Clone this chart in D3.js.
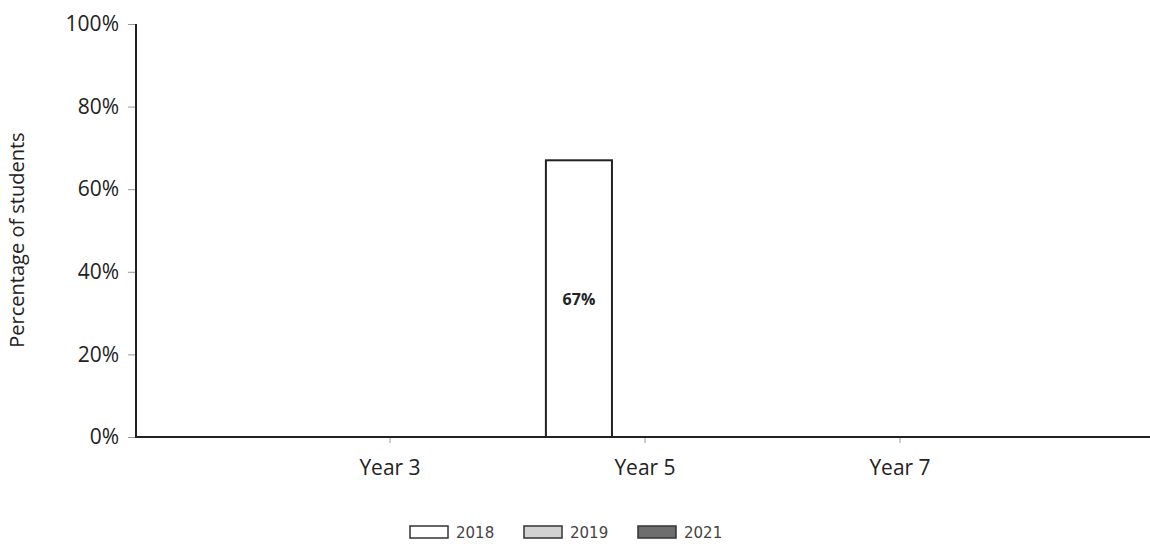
<!DOCTYPE html>
<html>
<head>
<meta charset="utf-8">
<script src="https://cdn.jsdelivr.net/npm/d3@7"></script>
<style>
  body { margin: 0; background: #fff; }
  text { font-family: "Open Sans", sans-serif; }
</style>
</head>
<body>
<div id="viz"></div>
<script>
// data
var categories = ['Year 3', 'Year 5', 'Year 7'];
var seriesNames = ['2018', '2019', '2021'];
var values2018 = [null, 0.67, null];
var values2019 = [null, null, null];
var values2021 = [null, null, null];
var yTicks = [0, 0.2, 0.4, 0.6, 0.8, 1];

var colors = {'2018': '#ffffff', '2019': '#d2d2d2', '2021': '#6e6e6e'};

var W = 1150, H = 544;
// plot edges (avoid the name "top", it's window.top)
var plotL = 136, plotR = 1150, plotT = 24, plotB = 437;

var svg = d3.select('#viz').append('svg')
  .attr('width', W).attr('height', H);

var y = d3.scaleLinear().domain([0, 1]).range([plotB, plotT]);

// category centres: one empty step at each side
var step = (1155 - 135) / (categories.length + 1);
var x0 = d3.scaleBand().domain(categories)
  .range([135 + step / 2, 1155 - step / 2]);
var x1 = d3.scaleBand().domain(seriesNames)
  .range([0, x0.bandwidth()]).paddingOuter(0.43);

var rows = [];
categories.forEach(function(c, i) {
  [values2018, values2019, values2021].forEach(function(arr, j) {
    if (arr[i] != null) rows.push({cat: c, series: seriesNames[j], v: arr[i]});
  });
});

// y axis
var yAxis = svg.append('g')
  .attr('transform', 'translate(' + plotL + ',0)')
  .call(d3.axisLeft(y).tickValues(yTicks).tickFormat(d3.format('.0%')).tickSize(8).tickPadding(9));
yAxis.select('.domain').remove();
yAxis.selectAll('.tick line').attr('stroke', '#999');
yAxis.selectAll('.tick text').attr('font-size', 21).attr('fill', '#222');

svg.append('line')
  .attr('x1', plotL).attr('x2', plotL).attr('y1', plotT).attr('y2', plotB + 1)
  .attr('stroke', '#222').attr('stroke-width', 2);

// bars
svg.selectAll('rect.bar').data(rows).enter().append('rect')
  .attr('class', 'bar')
  .attr('x', function(d) { return x0(d.cat) + x1(d.series); })
  .attr('y', function(d) { return y(d.v); })
  .attr('width', x1.bandwidth())
  .attr('height', function(d) { return plotB - y(d.v); })
  .attr('fill', function(d) { return colors[d.series]; })
  .attr('stroke', '#222').attr('stroke-width', 2);

svg.selectAll('text.lbl').data(rows).enter().append('text')
  .attr('class', 'lbl')
  .attr('x', function(d) { return x0(d.cat) + x1(d.series) + x1.bandwidth() / 2; })
  .attr('y', function(d) { return (y(d.v) + plotB) / 2 + 6; })
  .attr('text-anchor', 'middle')
  .attr('font-size', 16).attr('font-weight', 'bold').attr('fill', '#222')
  .text(function(d) { return d3.format('.0%')(d.v); });

// x axis
var xAxis = svg.append('g')
  .attr('transform', 'translate(0,' + plotB + ')');
xAxis.append('line')
  .attr('x1', plotL).attr('x2', plotR).attr('y1', 0).attr('y2', 0)
  .attr('stroke', '#222').attr('stroke-width', 2);
xAxis.selectAll('line.tk').data(categories).enter().append('line')
  .attr('class', 'tk')
  .attr('x1', function(d) { return x0(d) + x0.bandwidth() / 2; })
  .attr('x2', function(d) { return x0(d) + x0.bandwidth() / 2; })
  .attr('y1', 1).attr('y2', 6).attr('stroke', '#999');
xAxis.selectAll('text').data(categories).enter().append('text')
  .attr('x', function(d) { return x0(d) + x0.bandwidth() / 2; })
  .attr('y', 38)
  .attr('text-anchor', 'middle').attr('font-size', 21).attr('fill', '#222')
  .text(function(d) { return d; });

// y axis title
svg.append('text')
  .attr('transform', 'translate(24,240) rotate(-90)')
  .attr('text-anchor', 'middle').attr('font-size', 20).attr('fill', '#222')
  .text('Percentage of students');

// legend
var legend = svg.append('g').selectAll('g').data(seriesNames).enter().append('g')
  .attr('transform', function(d, i) { return 'translate(' + (410 + i * 114) + ',526)'; });
legend.append('rect')
  .attr('width', 38).attr('height', 12)
  .attr('fill', function(d) { return colors[d]; })
  .attr('stroke', '#333').attr('stroke-width', 1.5);
legend.append('text')
  .attr('x', 46).attr('y', 11.5)
  .style('font-family', '"DejaVu Sans", sans-serif')
  .attr('font-size', 15).attr('fill', '#444')
  .text(function(d) { return d; });
</script>
</body>
</html>
